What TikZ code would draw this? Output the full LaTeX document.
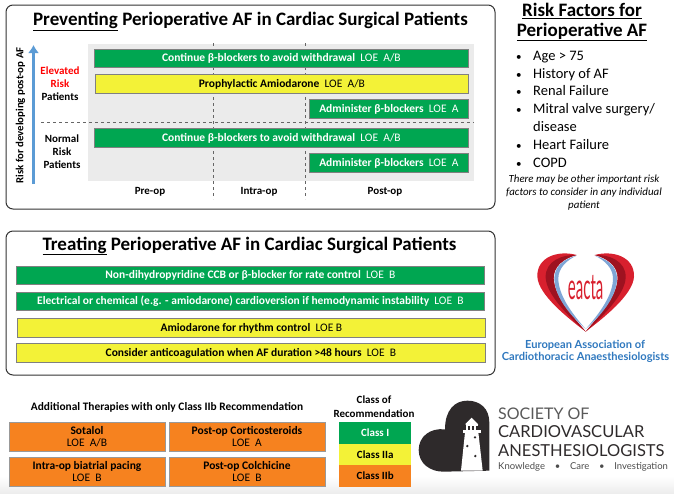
\documentclass[tikz,border=0pt]{standalone}
\usepackage{fontspec}
\setmainfont{Carlito}
\newfontfamily\logofont{Lato}
\usetikzlibrary{arrows.meta}
\definecolor{barGreen}{HTML}{00A651}
\definecolor{barYellow}{HTML}{F3F237}
\definecolor{barOrange}{HTML}{F6821F}
\definecolor{arrowBlue}{HTML}{5B9BD5}
\definecolor{logoDark}{HTML}{2E2A2B}
\definecolor{logoBlue}{HTML}{2F78BE}
\definecolor{logoRed}{HTML}{D8202E}
\definecolor{logoWine}{HTML}{9E1220}
\definecolor{logoSky}{HTML}{7FA6D6}
\tikzset{
	panel/.style={draw=black!80,line width=1pt,rounded corners=7pt,fill=white},
	barbox/.style={draw=black!50,line width=0.8pt,inner sep=0pt,minimum height=18.5pt,anchor=west,font=\fontsize{11.5}{13}\selectfont},
	greenbar/.style={barbox,fill=barGreen,text=white},
	yellowbar/.style={barbox,fill=barYellow,text=black},
	orangebar/.style={draw=black!40,line width=0.8pt,fill=barOrange,inner sep=0pt,minimum width=156pt,minimum height=29pt,align=center,font=\fontsize{11.5}{11.5}\selectfont},
	classbox/.style={inner sep=0pt,minimum width=72pt,minimum height=21.5pt,anchor=north west,font=\fontsize{11}{13}\selectfont\bfseries},
	sidelabel/.style={inner sep=0pt,font=\fontsize{11}{13}\selectfont\bfseries},
	headline/.style={inner sep=0pt,font=\fontsize{19}{24}\selectfont\bfseries},
	riskitem/.style={inner sep=0pt,anchor=base west,font=\fontsize{14.5}{18}\selectfont},
	splitline/.style={dashed,black!60,line width=0.6pt}
}
\begin{document}
\begin{tikzpicture}[x=1pt,y=-1pt]
	\useasboundingbox (0,0) rectangle (674,493);
	\shade[top color=white,bottom color=black!7] (0,476) rectangle (674,493);
	% Preventing panel
	\draw[panel] (6,5) rectangle (495,209);
	\fill[black!8] (88,44) rectangle (474,181);
	\node[headline] (prevtitle) at (250.5,21.5) {\underline{Preventing} Perioperative AF in Cardiac Surgical Patients};
	\coordinate (riskbot) at (33.5,184);
	\coordinate (risktop) at (33.5,45);
	\draw[-{Latex[length=8pt,width=11pt]},arrowBlue,line width=3pt] (riskbot) -- (risktop);
	\node[sidelabel,font=\fontsize{10.8}{13}\selectfont\bfseries,rotate=90] (risklabel) at (20.5,115.5) {Risk for developing post-op AF};
	\foreach \name/\x in {preintra/213.5,intrapost/305.5}
	{
		\coordinate (\name top) at (\x,43);
		\coordinate (\name bot) at (\x,199);
		\draw[splitline] (\name top) -- (\name bot);
	}
	\coordinate (groupleft) at (41,122.5);
	\coordinate (groupright) at (474,122.5);
	\draw[splitline] (groupleft) -- (groupright);
	\node[greenbar,minimum width=374pt] (contA) at (94,58.5) {\textbf{Continue β-blockers to avoid withdrawal}\ \ LOE\ \ A/B};
	\node[yellowbar,minimum width=373pt] (amioA) at (95,84) {\textbf{Prophylactic Amiodarone}\ \ LOE\ \ A/B};
	\node[greenbar,minimum width=159pt] (adminA) at (309,109) {\textbf{Administer β-blockers}\ \ LOE\ \ A};
	\node[greenbar,minimum width=374pt] (contB) at (94,138) {\textbf{Continue β-blockers to avoid withdrawal}\ \ LOE\ \ A/B};
	\node[greenbar,minimum width=159pt] (adminB) at (309,163) {\textbf{Administer β-blockers}\ \ LOE\ \ A};
	\node[sidelabel,text=red] (elevated) at (60,71) {Elevated};
	\node[sidelabel,text=red] (elevrisk) at (60,84) {Risk};
	\node[sidelabel] (elevpat) at (60,97) {Patients};
	\node[sidelabel] (normal) at (62,139) {Normal};
	\node[sidelabel] (normrisk) at (62,152) {Risk};
	\node[sidelabel] (normpat) at (62,165) {Patients};
	\foreach \name/\x/\t in {preop/150/Pre-op,intraop/259/Intra-op,postop/385/Post-op}
		\node[sidelabel] (\name) at (\x,192) {\t};
	% Risk factors
	\node[headline] (risktitleA) at (582,11) {\underline{Risk Factors for}};
	\node[headline] (risktitleB) at (582,32) {\underline{Perioperative AF}};
	\foreach \i/\y/\t in {1/60/{Age > 75},2/78/{History of AF},3/95/{Renal Failure},4/113/{Mitral valve surgery\slash},6/149/{Heart Failure},7/167/{COPD}}
	{
		\node[riskitem,font=\fontsize{11}{13}\selectfont] (bullet\i) at (516,\y) {•};
		\node[riskitem] (factor\i) at (533,\y) {\t};
	}
	\node[riskitem] (factor5) at (533,131) {disease};
	\foreach \i/\y/\t in {1/180/There may be other important risk,2/193/factors to consider in any individual,3/206/patient}
		\node[inner sep=0pt,font=\fontsize{10.9}{12}\selectfont\itshape] (note\i) at (584,\y) {\t};
	% Treating panel
	\draw[panel] (6,231) rectangle (495,375);
	\node[headline] (treattitle) at (249.5,246) {\underline{Treating} Perioperative AF in Cardiac Surgical Patients};
	\node[greenbar,minimum width=468pt] (ratebar) at (16,275.5) {\textbf{Non-dihydropyridine CCB or β-blocker for rate control}\ \ LOE\ \ B};
	\node[greenbar,minimum width=468pt] (cardiobar) at (16,301.5) {\textbf{Electrical or chemical (e.g. - amiodarone) cardioversion if hemodynamic instability}\ \ LOE\ \ B};
	\node[yellowbar,minimum width=468pt] (rhythmbar) at (17,328) {\textbf{Amiodarone for rhythm control}\ \ LOE B};
	\node[yellowbar,minimum width=469pt] (anticoagbar) at (16,353) {\textbf{Consider anticoagulation when AF duration >48 hours}\ \ LOE\ \ B};
	% Additional therapies
	\node[sidelabel,font=\fontsize{11.4}{13}\selectfont\bfseries] (addtitle) at (167,407) {Additional Therapies with only Class IIb Recommendation};
	\foreach \name/\x/\y/\t/\l in {sotalol/87/436.5/Sotalol/A\slash B,cortico/247/436.5/Post-op Corticosteroids/A,pacing/87/471.5/Intra-op biatrial pacing/B,colchicine/247/471.5/Post-op Colchicine/B}
		\node[orangebar] (\name) at (\x,\y) {\textbf{\t}\\LOE\ \ \l};
	\node[sidelabel] (classA) at (374,400) {Class of};
	\node[sidelabel] (classB) at (374,414) {Recommendation};
	\node[classbox,fill=barGreen,text=white] (classI) at (339,422) {Class I};
	\node[classbox,fill=barYellow] (classIIa) at (339,443.5) {Class IIa};
	\node[classbox,fill=barOrange] (classIIb) at (339,465) {Class IIb};
	% eacta logo
	\begin{scope}[shift={(495,235)},scale=1/3]
		\foreach \side in {1,-1}
		{
			\begin{scope}[shift={(272,0)},xscale=\side]
				\fill[logoRed] (-27,60) .. controls (-82,45) and (-147,65) .. (-145,125) .. controls (-142,180) and (-52,250) .. (0,290) .. controls (-32,250) and (-94,190) .. (-96,130) .. controls (-97,95) and (-67,70) .. (-27,60) -- cycle;
				\fill[logoWine] (-27,60) .. controls (-70,58) and (-122,78) .. (-120,128) .. controls (-118,180) and (-45,250) .. (0,290) .. controls (-32,250) and (-94,190) .. (-96,130) .. controls (-97,95) and (-67,70) .. (-27,60) -- cycle;
				\fill[logoSky] (-27,62) .. controls (-67,72) and (-94,95) .. (-94,130) .. controls (-94,190) and (-37,250) .. (0,282) .. controls (-42,235) and (-82,180) .. (-82,130) .. controls (-82,100) and (-57,75) .. (-27,62) -- cycle;
			\end{scope}
		}
		\node[inner sep=0pt,text=logoRed] (eactamark) at (272,157) {\scalebox{0.5}[1.2]{\fontsize{30}{30}\logofont\selectfont eacta}};
	\end{scope}
	\node[inner sep=0pt,text=logoBlue,font=\fontsize{11.1}{12}\logofont\bfseries] (eactaA) at (585,345.5) {European Association of};
	\node[inner sep=0pt,text=logoBlue,font=\fontsize{11.1}{12}\logofont\bfseries] (eactaB) at (585.5,357.5) {Cardiothoracic Anaesthesiologists};
	% sca logo
	\begin{scope}[shift={(410,385)},scale=1/3]
		\fill[logoDark] (238,257) -- (238,113) .. controls (238,70) and (210,47) .. (172,47) .. controls (134,47) and (105,75) .. (105,133) .. controls (60,128) and (26,155) .. (26,195) .. controls (26,235) and (60,260) .. (100,260) -- cycle;
		\fill[white] (165,142) -- (205,142) -- (218,257) -- (153,257) -- cycle;
		\fill[white] (160,135) rectangle (212,143);
		\fill[white] (165,118) -- (185,98) -- (205,118) -- cycle;
		\fill[white] (167,118) rectangle (204,136);
		\foreach \x in {173,185,197}
			\fill[logoDark] (\x,122) rectangle +(6,12);
		\foreach \x/\y in {195/157,172/183,196/213}
			\fill[logoDark] (\x,\y) circle (4);
	\end{scope}
	\node[inner sep=0pt,anchor=west,text=black!65,font=\fontsize{16}{18}\logofont] (scaA) at (498,414) {SOCIETY OF};
	\node[inner sep=0pt,anchor=west,text=logoDark,font=\fontsize{16.5}{18}\logofont] (scaB) at (498,432) {CARDIOVASCULAR};
	\node[inner sep=0pt,anchor=west,text=logoDark,font=\fontsize{16.5}{18}\logofont] (scaC) at (498,451) {ANESTHESIOLOGISTS};
	\node[inner sep=0pt,anchor=west,text=black!70,font=\fontsize{9.5}{11}\logofont] (scaD) at (498,467) {Knowledge\ \ \ \ •\ \ \ \ Care\ \ \ \ •\ \ \ \ Investigation};
\end{tikzpicture}
\end{document}
